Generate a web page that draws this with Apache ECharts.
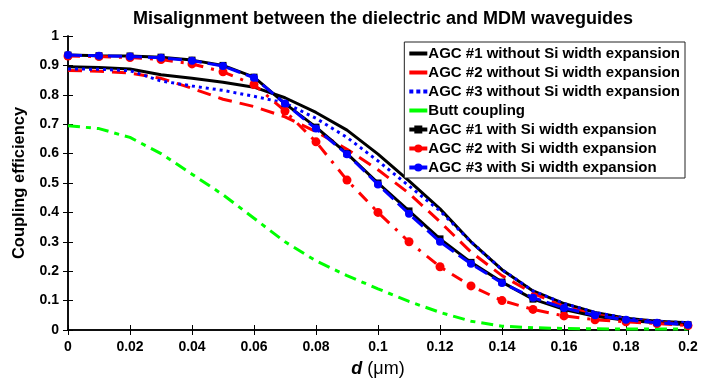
<!DOCTYPE html>
<html>
<head>
<meta charset="utf-8">
<script src="https://cdn.jsdelivr.net/npm/echarts@6/dist/echarts.min.js"></script>
<style>
  html, body { margin: 0; padding: 0; background: #fff; }
  #chart { width: 702px; height: 383px; }
</style>
</head>
<body>
<div id="chart"></div>
<script>
// misalignment d in um
var dValues = [0, 0.01, 0.02, 0.03, 0.04, 0.05, 0.06, 0.07, 0.08, 0.09, 0.1,
               0.11, 0.12, 0.13, 0.14, 0.15, 0.16, 0.17, 0.18, 0.19, 0.2];

var agc1Without = [0.895, 0.893, 0.888, 0.868, 0.856, 0.843, 0.826, 0.79, 0.74, 0.68, 0.598,
                   0.507, 0.412, 0.3, 0.205, 0.133, 0.09, 0.06, 0.04, 0.03, 0.025];
var agc2Without = [0.883, 0.88, 0.874, 0.856, 0.822, 0.785, 0.76, 0.725, 0.675, 0.615, 0.545,
                   0.465, 0.368, 0.265, 0.185, 0.125, 0.08, 0.052, 0.036, 0.026, 0.02];
var agc3Without = [0.888, 0.887, 0.882, 0.847, 0.83, 0.815, 0.795, 0.772, 0.72, 0.655, 0.575,
                   0.49, 0.405, 0.3, 0.205, 0.133, 0.09, 0.06, 0.04, 0.03, 0.025];
var buttCoupling = [0.695, 0.685, 0.655, 0.6, 0.53, 0.46, 0.38, 0.3, 0.235, 0.185, 0.14,
                    0.097, 0.06, 0.03, 0.013, 0.008, 0.005, 0.004, 0.003, 0.003, 0.003];
var agc1With = [0.935, 0.933, 0.932, 0.928, 0.918, 0.9, 0.86, 0.77, 0.69, 0.6, 0.5,
                0.405, 0.31, 0.23, 0.163, 0.105, 0.07, 0.047, 0.033, 0.025, 0.018];
var agc2With = [0.932, 0.93, 0.927, 0.92, 0.905, 0.878, 0.835, 0.745, 0.64, 0.51, 0.4,
                0.3, 0.215, 0.15, 0.1, 0.07, 0.048, 0.035, 0.028, 0.022, 0.015];
var agc3With = [0.935, 0.933, 0.93, 0.926, 0.916, 0.898, 0.858, 0.77, 0.685, 0.598, 0.495,
                0.395, 0.3, 0.225, 0.16, 0.11, 0.075, 0.05, 0.035, 0.025, 0.018];

var seriesNames = [
    'AGC #1 without Si width expansion',
    'AGC #2 without Si width expansion',
    'AGC #3 without Si width expansion',
    'Butt coupling',
    'AGC #1 with Si width expansion',
    'AGC #2 with Si width expansion',
    'AGC #3 with Si width expansion'
];

function pairs(ys) {
    return dValues.map(function (d, i) { return [d, ys[i]]; });
}

function lineSeries(name, ys, color, type, extra) {
    var s = {
        name: name,
        type: 'line',
        data: pairs(ys),
        symbol: 'none',
        smooth: false,
        animation: false,
        lineStyle: { color: color, width: 3, type: type },
        itemStyle: { color: color }
    };
    for (var k in extra) s[k] = extra[k];
    return s;
}

var barIcon = 'path://M0,0h18v4h-18z';
var dotIcon = 'path://M0,0h4v4h-4zM7,0h4v4h-4zM14,0h4v4h-4z';

var chart = echarts.init(document.getElementById('chart'));
var fontFam = 'Arial, "Liberation Sans", sans-serif';

chart.setOption({
    backgroundColor: '#fff',
    textStyle: { fontFamily: fontFam },
    title: {
        text: 'Misalignment between the dielectric and MDM waveguides',
        left: 378,
        textAlign: 'center',
        top: 5,
        textStyle: { fontSize: 18, fontWeight: 'bold', color: '#000', fontFamily: fontFam }
    },
    legend: {
        right: 17,
        top: 42,
        orient: 'vertical',
        backgroundColor: '#fff',
        borderColor: '#222',
        borderWidth: 1,
        padding: [4, 5, 3, 3],
        itemWidth: 18,
        itemHeight: 10,
        itemGap: 4,
        symbolKeepAspect: true,
        textStyle: { fontSize: 15, fontWeight: 'bold', color: '#000', fontFamily: fontFam,
                     lineHeight: 15, padding: [0, 0, 0, -4] },
        data: [
            { name: seriesNames[0], icon: barIcon },
            { name: seriesNames[1], icon: barIcon },
            { name: seriesNames[2], icon: dotIcon },
            { name: seriesNames[3], icon: barIcon },
            { name: seriesNames[4], lineStyle: { type: 'solid', width: 4 } },
            { name: seriesNames[5], lineStyle: { type: 'solid', width: 4 } },
            { name: seriesNames[6], lineStyle: { type: 'solid', width: 4 } }
        ]
    },
    grid: { left: 68, right: 14, top: 36, bottom: 48 },
    xAxis: [{
        type: 'value', min: 0, max: 0.2, interval: 0.02,
        name: '{i|d} (μm)',
        nameLocation: 'middle',
        nameGap: 30,
        nameTextStyle: {
            fontSize: 18, color: '#000', fontFamily: fontFam,
            rich: { i: { fontSize: 18, fontStyle: 'italic', fontWeight: 'bold', color: '#000', fontFamily: fontFam } }
        },
        axisLine: { lineStyle: { color: '#000', width: 1.5 } },
        axisTick: { inside: true, length: 5, lineStyle: { color: '#000' } },
        axisLabel: {
            color: '#000', fontSize: 14, fontWeight: 'bold', margin: 10,
            formatter: function (v) { return String(+v.toFixed(2)); }
        },
        splitLine: { show: false }
    }, {
        type: 'value', min: 0, max: 0.2, interval: 0.02, position: 'top',
        axisLine: { lineStyle: { color: '#000', width: 1.5 } },
        axisTick: { inside: true, length: 5, lineStyle: { color: '#000' } },
        axisLabel: { show: false },
        splitLine: { show: false }
    }],
    yAxis: [{
        type: 'value', min: 0, max: 1, interval: 0.1,
        name: 'Coupling efficiency',
        nameLocation: 'middle',
        nameGap: 40,
        nameTextStyle: { fontSize: 16.5, fontWeight: 'bold', color: '#000', fontFamily: fontFam },
        axisLine: { show: true, lineStyle: { color: '#000', width: 1.5 } },
        axisTick: { show: true, inside: true, length: 5, lineStyle: { color: '#000' } },
        axisLabel: {
            color: '#000', fontSize: 14, fontWeight: 'bold', margin: 9,
            formatter: function (v) { return String(+v.toFixed(1)); }
        },
        splitLine: { show: false }
    }, {
        type: 'value', min: 0, max: 1, interval: 0.1, position: 'right',
        axisLine: { show: true, lineStyle: { color: '#000', width: 1.5 } },
        axisTick: { show: true, inside: true, length: 5, lineStyle: { color: '#000' } },
        axisLabel: { show: false },
        splitLine: { show: false }
    }],
    series: [
        lineSeries(seriesNames[0], agc1Without, '#000000', 'solid', { z: 3 }),
        lineSeries(seriesNames[1], agc2Without, '#ff0000', [14, 8], { z: 3 }),
        lineSeries(seriesNames[2], agc3Without, '#0000ff', [3, 4], { z: 3 }),
        lineSeries(seriesNames[3], buttCoupling, '#00ff00', [12, 6, 5, 6], { z: 2 }),
        lineSeries(seriesNames[4], agc1With, '#000000', 'solid',
            { symbol: 'rect', symbolSize: 7, showSymbol: true, z: 4 }),
        lineSeries(seriesNames[5], agc2With, '#ff0000', [12, 8, 3, 8],
            { symbol: 'circle', symbolSize: 9, showSymbol: true, z: 4 }),
        lineSeries(seriesNames[6], agc3With, '#0000ff', [14, 6],
            { symbol: 'circle', symbolSize: 8, showSymbol: true, z: 5 })
    ]
});
</script>
</body>
</html>
